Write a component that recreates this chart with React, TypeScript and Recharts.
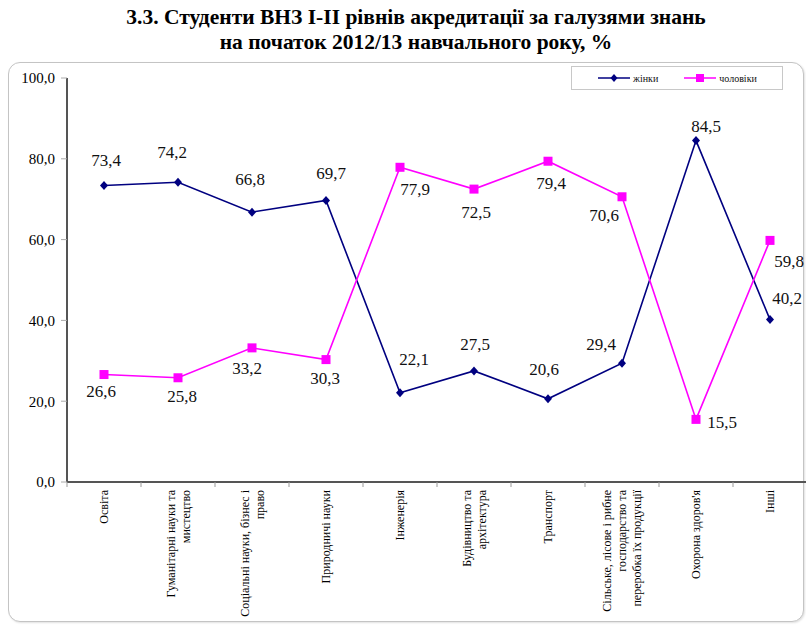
import React from 'react';
import { LineChart, Line, XAxis, YAxis, LabelList } from 'recharts';

// Галузі знань (переноси рядків як у підписах осі)
const categories = [
  'Освіта',
  'Гуманітарні науки та\nмистецтво',
  'Соціальні науки, бізнес і\nправо',
  'Природничі науки',
  'Інженерія',
  'Будівництво та\nархітектура',
  'Транспорт',
  'Сільське, лісове і рибне\nгосподарство та\nпереробка їх продукції',
  "Охорона здоров'я",
  'Інші'
];

const women = [73.4, 74.2, 66.8, 69.7, 22.1, 27.5, 20.6, 29.4, 84.5, 40.2];
const men = [26.6, 25.8, 33.2, 30.3, 77.9, 72.5, 79.4, 70.6, 15.5, 59.8];

const yTicks = [0, 20, 40, 60, 80, 100];

// зсуви підписів значень відносно точки (як розставлено в оригіналі)
const womenLabelShift = [[2, -25], [-6, -30], [-2, -33], [5, -27], [14, -33], [1, -26], [-4, -29], [-21, -19], [10, -14], [17, -21]];
const menLabelShift = [[-3, 17], [4, 19], [-5, 21], [-1, 19], [15, 22], [2, 23], [3, 22], [-18, 19], [26, 3], [19, 21]];

const data = categories.map((name, i) => ({ name, women: women[i], men: men[i] }));

const fmt = (v: number) => v.toFixed(1).replace('.', ',');

const FONT = '"Liberation Serif", "Times New Roman", serif';
const NAVY = '#000080';
const PINK = '#FF00FF';

const Diamond = (props: any) => {
  const { cx, cy } = props;
  if (cx == null || cy == null) return null;
  return <polygon points={`${cx},${cy - 4.5} ${cx + 4},${cy} ${cx},${cy + 4.5} ${cx - 4},${cy}`} fill={NAVY} />;
};

const Square = (props: any) => {
  const { cx, cy } = props;
  if (cx == null || cy == null) return null;
  return <rect x={cx - 4.5} y={cy - 4.5} width={9} height={9} fill={PINK} />;
};

const makeLabel = (shift: number[][]) => (props: any) => {
  const { x, y, value, index } = props;
  const [dx, dy] = shift[index] ?? [0, -20];
  return (
    <text
      x={x + dx}
      y={y + dy}
      textAnchor="middle"
      dominantBaseline="central"
      fontFamily={FONT}
      fontSize={17}
      fill="#111"
    >
      {fmt(value)}
    </text>
  );
};

const CategoryTick = (props: any) => {
  const { x, y, payload, index, visibleTicksCount } = props;
  const lines = String(payload.value).split('\n');
  const half = 37;
  const lh = 15;
  return (
    <g>
      <line x1={x - half} y1={y - 8} x2={x - half} y2={y - 3} stroke="#999" />
      {index === visibleTicksCount - 1 && (
        <line x1={x + half} y1={y - 8} x2={x + half} y2={y - 3} stroke="#999" />
      )}
      <g transform={`translate(${x},${y})`}>
        <text transform="rotate(-90)" textAnchor="end" fontFamily={FONT} fontSize={12} fill="#000">
          {lines.map((ln, i) => (
            <tspan key={i} x={0} y={(i - (lines.length - 1) / 2) * lh} dominantBaseline="central">
              {ln}
            </tspan>
          ))}
        </text>
      </g>
    </g>
  );
};

const LegendBox = () => (
  <div
    style={{
      position: 'absolute',
      left: 571,
      top: 66,
      width: 212,
      height: 24,
      border: '1px solid #c8c8c8',
      background: '#fff',
      display: 'flex',
      alignItems: 'center',
      fontFamily: FONT,
      fontSize: 10,
      color: '#111',
      boxSizing: 'border-box'
    }}
  >
    <svg width={32} height={10} style={{ marginLeft: 26 }}>
      <line x1={0} y1={5} x2={32} y2={5} stroke={NAVY} strokeWidth={1.5} />
      <polygon points="16,1 19.5,5 16,9 12.5,5" fill={NAVY} />
    </svg>
    <span style={{ marginLeft: 3 }}>жінки</span>
    <svg width={32} height={10} style={{ marginLeft: 26 }}>
      <line x1={0} y1={5} x2={32} y2={5} stroke={PINK} strokeWidth={1.5} />
      <rect x={12} y={1} width={8} height={8} fill={PINK} />
    </svg>
    <span style={{ marginLeft: 3 }}>чоловіки</span>
  </div>
);

export default function App() {
  return (
    <div
      style={{
        position: 'absolute',
        left: 0,
        top: 0,
        width: 806,
        height: 627,
        overflow: 'hidden',
        background: '#fff',
        fontFamily: FONT
      }}
    >
      <div
        style={{
          position: 'absolute',
          left: 0,
          top: 5,
          width: 832,
          textAlign: 'center',
          fontWeight: 'bold',
          fontSize: 21.5,
          lineHeight: '25px',
          color: '#000'
        }}
      >
        <div>3.3. Студенти ВНЗ І-ІІ рівнів акредитації за галузями знань</div>
        <div>на початок 2012/13 навчального року, %</div>
      </div>
      <div
        style={{
          position: 'absolute',
          left: 8,
          top: 62,
          width: 796,
          height: 560,
          border: '1px solid #c4c4c4',
          borderRadius: 12,
          boxShadow: '1px 1px 2px rgba(0,0,0,0.12)',
          background: '#fff',
          boxSizing: 'border-box'
        }}
      />
      <div style={{ position: 'absolute', left: 0, top: 0 }}>
        <LineChart width={812} height={627} data={data} margin={{ top: 78, right: 5, bottom: 0, left: 0 }}>
          <XAxis
            dataKey="name"
            scale="band"
            interval={0}
            height={145}
            axisLine={{ stroke: '#555', strokeWidth: 2 }}
            tickLine={false}
            tick={<CategoryTick />}
          />
          <YAxis
            domain={[0, 100]}
            ticks={yTicks}
            width={67}
            tickFormatter={fmt}
            axisLine={{ stroke: '#555', strokeWidth: 2 }}
            tickLine={{ stroke: '#aaa' }}
            tickSize={6}
            tickMargin={6}
            tick={{ fontFamily: FONT, fontSize: 15, fill: '#000' }}
          />
          <Line
            type="linear"
            dataKey="women"
            name="жінки"
            stroke={NAVY}
            strokeWidth={1.6}
            dot={<Diamond />}
            activeDot={false}
            isAnimationActive={false}
          >
            <LabelList dataKey="women" content={makeLabel(womenLabelShift)} />
          </Line>
          <Line
            type="linear"
            dataKey="men"
            name="чоловіки"
            stroke={PINK}
            strokeWidth={1.6}
            dot={<Square />}
            activeDot={false}
            isAnimationActive={false}
          >
            <LabelList dataKey="men" content={makeLabel(menLabelShift)} />
          </Line>
        </LineChart>
      </div>
      <LegendBox />
    </div>
  );
}
